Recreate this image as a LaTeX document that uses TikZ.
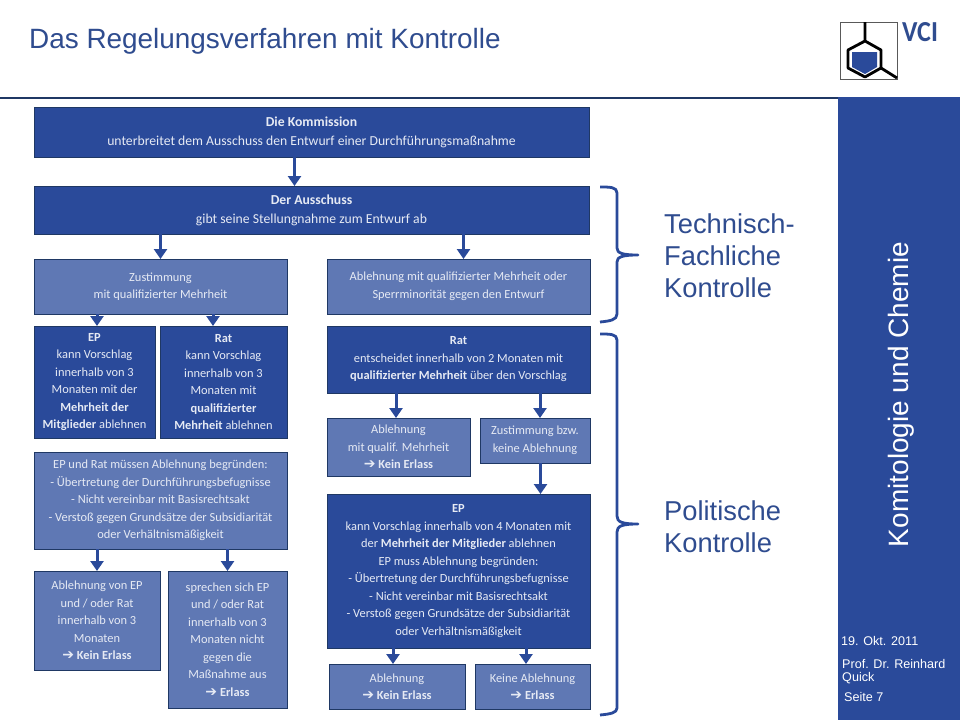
\documentclass[tikz,border=0pt]{standalone}
\usepackage{fontspec}
\setmainfont{Carlito}
\newfontfamily\headfont{Liberation Sans}
\newfontfamily\arrowfont{DejaVu Sans}
\usepackage{xcolor}
\usetikzlibrary{arrows.meta, positioning}
\definecolor{vciblue}{HTML}{2A4A9A}
\definecolor{vcilight}{HTML}{5F78B4}
\definecolor{vciedge}{HTML}{1F3864}
\definecolor{vcitext}{HTML}{E6EAF4}
\definecolor{vcihead}{HTML}{2F4C8F}
\newcommand{\folgt}{\smash{\arrowfont\fontsize{14}{10}\selectfont\symbol{"2794}}\ }
\tikzset{
  flowbox/.style={draw=vciedge,line width=0.8pt,anchor=north west,inner sep=0pt,outer sep=0pt,
    text=vcitext,align=center,font=\fontsize{12.4}{17.5}\selectfont},
  darkbox/.style={flowbox,fill=vciblue},
  lightbox/.style={flowbox,fill=vcilight},
  widebox/.style={darkbox,minimum width=555pt,font=\fontsize{13.7}{19}\selectfont},
  arr/.style={draw=vciblue,line width=3pt,-{Triangle[length=10pt,width=13pt]}},
  klammer/.style={draw=vciblue,line width=2.8pt,line join=round},
  sidetext/.style={anchor=west,inner sep=0pt,text=white,font=\headfont\fontsize{12.6}{14}\selectfont},
  kontrolle/.style={anchor=north west,inner sep=0pt,align=left,text=vcihead,font=\headfont\fontsize{27.3}{32}\selectfont}
}
\begin{document}
\begin{tikzpicture}[x=1pt,y=-1pt]
\useasboundingbox (0,0) rectangle (960,720);
\fill[white] (0,0) rectangle (960,720);
% header and side band
\fill[vciblue] (838,97) rectangle (960,720);
\draw[vciedge,line width=1.6pt] (0,98) -- (838,98);
\node[anchor=west,inner sep=0pt,text=vcihead,font=\headfont\fontsize{27.9}{30}\selectfont] (titel) at (29,41) {Das Regelungsverfahren mit Kontrolle};
\node[rotate=90,inner sep=0pt,text=white,font=\headfont\fontsize{28}{30}\selectfont] (seitentitel) at (901,394.5) {Komitologie und Chemie};
\node[sidetext] (datum) at (841,641) {19. Okt. 2011};
\node[sidetext,anchor=north west,align=left] (autor) at (842,659) {Prof. Dr. Reinhard\\[-0.5pt]Quick};
\node[sidetext] (seite) at (844,697) {Seite 7};
% logo
\draw[gray!70!black,line width=0.8pt] (840,22) rectangle (897,79);
\fill[vciblue] (852,52) -- (877,52) -- (877,67) -- (865,74) -- (852,67) -- cycle;
\draw[black,line width=2.8pt,line join=round] (865,22) -- (865,41) -- (881,50) -- (881,68) -- (865,77) -- (848,68) -- (848,50) -- (865,41);
\draw[black,line width=2.8pt] (881,68) -- (897,78);
\node[anchor=north west,inner sep=0pt,text=vcihead,font=\bfseries\fontsize{29}{29}\selectfont,xscale=0.9] (vci) at (902,22) {VCI};
% left column
\node[widebox,minimum height=50pt] (kommission) at (34,107) {\textbf{Die Kommission}\\unterbreitet dem Ausschuss den Entwurf einer Durchführungsmaßnahme};
\node[widebox,minimum height=48pt] (ausschuss) at (34,186) {\textbf{Der Ausschuss}\\gibt seine Stellungnahme zum Entwurf ab};
\node[lightbox,minimum width=253pt,minimum height=55pt] (zustimmung) at (34,259) {Zustimmung\\mit qualifizierter Mehrheit};
\node[darkbox,minimum width=121pt,minimum height=112pt] (epA) at (34,326) {\textbf{EP}\\kann Vorschlag\\innerhalb von 3\\Monaten mit der\\\textbf{Mehrheit der}\\\textbf{Mitglieder} ablehnen};
\node[darkbox,minimum width=127pt,minimum height=112pt] (ratA) at (160,326) {\textbf{Rat}\\kann Vorschlag\\innerhalb von 3\\Monaten mit\\\textbf{qualifizierter}\\\textbf{Mehrheit} ablehnen};
\node[lightbox,minimum width=253pt,minimum height=97pt] (begruendung) at (34,452) {EP und Rat müssen Ablehnung begründen:\\- Übertretung der Durchführungsbefugnisse\\- Nicht vereinbar mit Basisrechtsakt\\- Verstoß gegen Grundsätze der Subsidiarität\\oder Verhältnismäßigkeit};
\node[lightbox,minimum width=126pt,minimum height=99pt] (ablehnungA) at (34,571) {Ablehnung von EP\\und / oder Rat\\innerhalb von 3\\Monaten\\\folgt\textbf{Kein Erlass}};
\node[lightbox,minimum width=119pt,minimum height=137pt] (sprechen) at (168,571) {sprechen sich EP\\und / oder Rat\\innerhalb von 3\\Monaten nicht\\gegen die\\Maßnahme aus\\\folgt\textbf{Erlass}};
% right column
\node[lightbox,minimum width=263pt,minimum height=55pt] (ablehnungB) at (327,259) {Ablehnung mit qualifizierter Mehrheit oder\\Sperrminorität gegen den Entwurf};
\node[darkbox,minimum width=263pt,minimum height=67pt] (ratB) at (327,326) {\textbf{Rat}\\entscheidet innerhalb von 2 Monaten mit\\\textbf{qualifizierter Mehrheit} über den Vorschlag};
\node[lightbox,minimum width=143pt,minimum height=58pt] (qualif) at (327,418) {Ablehnung\\mit qualif. Mehrheit\\\folgt\textbf{Kein Erlass}};
\node[lightbox,minimum width=110pt,minimum height=45pt] (keine) at (480,418) {Zustimmung bzw.\\keine Ablehnung};
\node[darkbox,minimum width=263pt,minimum height=154pt] (epB) at (327,494) {\textbf{EP}\\kann Vorschlag innerhalb von 4 Monaten mit\\der \textbf{Mehrheit der Mitglieder} ablehnen\\EP muss Ablehnung begründen:\\- Übertretung der Durchführungsbefugnisse\\- Nicht vereinbar mit Basisrechtsakt\\- Verstoß gegen Grundsätze der Subsidiarität\\oder Verhältnismäßigkeit};
\node[lightbox,minimum width=136pt,minimum height=45pt] (kein) at (329,664) {Ablehnung\\\folgt\textbf{Kein Erlass}};
\node[lightbox,minimum width=115pt,minimum height=45pt] (erlass) at (475,664) {Keine Ablehnung\\\folgt\textbf{Erlass}};
% arrows
\draw[arr] ([xshift=-17pt]kommission.south) -- ([xshift=-17pt]ausschuss.north);
\draw[arr] (ausschuss.south -| zustimmung.north) -- (zustimmung.north);
\draw[arr] ([xshift=5pt]ausschuss.south -| ablehnungB.north) -- ([xshift=5pt]ablehnungB.north);
\draw[arr] ([xshift=2.5pt]zustimmung.south -| epA.north) -- ([xshift=2.5pt]epA.north);
\draw[arr] ([xshift=-10.5pt]zustimmung.south -| ratA.north) -- ([xshift=-10.5pt]ratA.north);
\draw[arr] ([xshift=-2.5pt]ratB.south -| qualif.north) -- ([xshift=-2.5pt]qualif.north);
\draw[arr] ([xshift=5pt]ratB.south -| keine.north) -- ([xshift=5pt]keine.north);
\draw[arr] ([xshift=5.5pt]keine.south) -- ([xshift=5.5pt]keine.south |- epB.north);
\draw[arr] ([xshift=-4pt]epB.south -| kein.north) -- ([xshift=-4pt]kein.north);
\draw[arr] ([xshift=-6.5pt]epB.south -| erlass.north) -- ([xshift=-6.5pt]erlass.north);
\draw[arr] (begruendung.south -| ablehnungA.north) -- (ablehnungA.north);
\draw[arr] (begruendung.south -| sprechen.north) -- (sprechen.north);
% braces
\draw[klammer] (600,187) .. controls (610,187) and (617,187) .. (617,193) -- (617,248) .. controls (617,253) and (622,255) .. (638,255) .. controls (622,255) and (617,257) .. (617,262) -- (617,314) .. controls (617,320) and (610,321) .. (600,322);
\draw[klammer] (600,334) .. controls (610,334) and (617,334) .. (617,340) -- (617,516) .. controls (617,522) and (622,524) .. (638,524) .. controls (622,524) and (617,526) .. (617,532) -- (617,708) .. controls (617,713) and (610,714) .. (600,715);
\node[kontrolle] (technisch) at (664,214) {Technisch-\\Fachliche\\Kontrolle};
\node[kontrolle] (politisch) at (664,501) {Politische\\Kontrolle};
\end{tikzpicture}
\end{document}
